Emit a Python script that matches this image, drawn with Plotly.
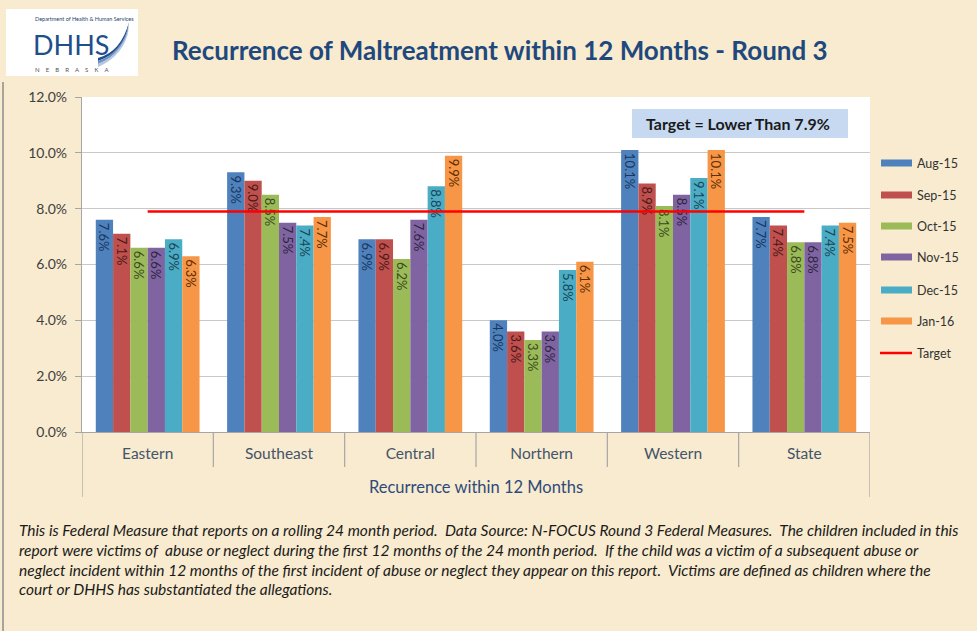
import plotly.graph_objects as go

categories = ["Eastern", "Southeast", "Central", "Northern", "Western", "State"]
series_names = ["Aug-15", "Sep-15", "Oct-15", "Nov-15", "Dec-15", "Jan-16"]
aug15 = [7.6, 9.3, 6.9, 4.0, 10.1, 7.7]
sep15 = [7.1, 9.0, 6.9, 3.6, 8.9, 7.4]
oct15 = [6.6, 8.5, 6.2, 3.3, 8.1, 6.8]
nov15 = [6.6, 7.5, 7.6, 3.6, 8.5, 6.8]
dec15 = [6.9, 7.4, 8.8, 5.8, 9.1, 7.4]
jan16 = [6.3, 7.7, 9.9, 6.1, 10.1, 7.5]
target_value = 7.9
target_name = "Target"
y_ticks = [0, 2, 4, 6, 8, 10, 12]
y_tick_labels = ["0.0%", "2.0%", "4.0%", "6.0%", "8.0%", "10.0%", "12.0%"]

series_values = [aug15, sep15, oct15, nov15, dec15, jan16]
colors = ["#4F81BD", "#C0504D", "#9BBB59", "#8064A2", "#4BACC6", "#F79646"]
text_colors = ["#17375E", "#4A1A19", "#3B4A1E", "#2E2440", "#1B4552", "#5E2E05"]

W, H = 977, 631
L, R, T, B = 82, 870, 97, 432


def px(x):
    return (x - L) / (R - L)


def py(y):
    return (B - y) / (B - T)


fig = go.Figure()
for name, vals, c, tc in zip(series_names, series_values, colors, text_colors):
    fig.add_trace(go.Bar(
        x=categories, y=vals, name=name, marker_color=c,
        marker_line_width=0,
        text=[f"{v:.1f}%" for v in vals],
        textposition="inside", insidetextanchor="end", textangle=90,
        textfont=dict(family="Lato", size=13, color=tc),
        constraintext="none",
    ))
fig.add_trace(go.Scatter(
    x=categories, y=[target_value] * len(categories), name=target_name,
    mode="lines", line=dict(color="#FF0000", width=2.5),
))

shapes = []
annotations = []

# category separators
for i in range(len(categories) + 1):
    xpos = i - 0.5
    outer = i == 0 or i == len(categories)
    shapes.append(dict(type="line", xref="x", yref="paper", x0=xpos, x1=xpos,
                       y0=0, y1=py(497 if outer else 467),
                       line=dict(color="#A6A6A6", width=1.2)))

# chart frame left border
shapes.append(dict(type="line", xref="paper", yref="paper", x0=px(3), x1=px(3),
                   y0=py(82), y1=py(640), line=dict(color="#8C8C8C", width=1.5)))

# manual legend
leg_y = [163, 195, 226, 257, 290, 321]
for name, c, yy in zip(series_names, colors, leg_y):
    shapes.append(dict(type="rect", xref="paper", yref="paper",
                       x0=px(881), x1=px(912), y0=py(yy - 3.5), y1=py(yy + 3.5),
                       fillcolor=c, line=dict(width=0)))
    annotations.append(dict(xref="paper", yref="paper", x=px(915), y=py(yy),
                            text=name, showarrow=False, xanchor="left", yanchor="middle",
                            font=dict(family="Lato", size=12.5, color="#333333")))
shapes.append(dict(type="line", xref="paper", yref="paper", x0=px(880), x1=px(912),
                   y0=py(353), y1=py(353), line=dict(color="#FF0000", width=2.5)))
annotations.append(dict(xref="paper", yref="paper", x=px(915), y=py(353),
                        text=target_name, showarrow=False, xanchor="left", yanchor="middle",
                        font=dict(family="Lato", size=12.5, color="#333333")))

# target box
shapes.append(dict(type="rect", xref="paper", yref="paper", x0=px(632), x1=px(848),
                   y0=py(138), y1=py(109), fillcolor="#C6D9F1", line=dict(width=0)))
annotations.append(dict(xref="paper", yref="paper", x=px(738), y=py(123.5),
                        text="<b>Target = Lower Than 7.9%</b>", showarrow=False,
                        xanchor="center", yanchor="middle",
                        font=dict(family="Lato", size=16, color="#1A1A1A")))

# title
annotations.append(dict(xref="paper", yref="paper", x=px(500), y=py(50),
                        text="<b>Recurrence of Maltreatment within 12 Months - Round 3</b>",
                        showarrow=False, xanchor="center", yanchor="middle",
                        font=dict(family="Lato", size=26, color="#1F497D")))

# logo
shapes.append(dict(type="rect", xref="paper", yref="paper", x0=px(6), x1=px(138),
                   y0=py(76), y1=py(9), fillcolor="#FFFFFF", line=dict(width=0)))
annotations.append(dict(xref="paper", yref="paper", x=px(33), y=py(19),
                        text="Department of Health &amp; Human Services", showarrow=False,
                        xanchor="left", yanchor="middle",
                        font=dict(family="Lato", size=5.5, color="#1F3F6E")))
annotations.append(dict(xref="paper", yref="paper", x=px(31), y=py(45),
                        text="DHHS", showarrow=False, xanchor="left", yanchor="middle",
                        font=dict(family="Lato", size=27, color="#1F4E8C")))
annotations.append(dict(xref="paper", yref="paper", x=px(72), y=py(69),
                        text="N    E    B    R    A    S    K    A", showarrow=False,
                        xanchor="center", yanchor="middle",
                        font=dict(family="Lato", size=6, color="#555555")))


def pp(x, y):
    return f"{px(x):.5f},{py(y):.5f}"


for dx, col in [(0, "#1F4E8C"), (3, "#6F8FBF"), (6, "#B4C7E0")]:
    swoosh = ("M " + pp(98, 58 + dx) + " Q " + pp(121, 52 + dx * 0.5) + " " + pp(129, 22 + dx) +
              " Q " + pp(125, 52 + dx * 0.5) + " " + pp(98, 61 + dx) + " Z")
    shapes.append(dict(type="path", xref="paper", yref="paper", path=swoosh,
                       fillcolor=col, line=dict(width=0)))

# footer
footer_lines = [
    "This is Federal Measure that reports on a rolling 24 month period.  Data Source: N-FOCUS Round 3 Federal Measures.  The children included in this",
    "report were victims of  abuse or neglect during the first 12 months of the 24 month period.  If the child was a victim of a subsequent abuse or",
    "neglect incident within 12 months of the first incident of abuse or neglect they appear on this report.  Victims are defined as children where the",
    "court or DHHS has substantiated the allegations.",
]
for line, yy in zip(footer_lines, [530, 550, 570, 589]):
    annotations.append(dict(xref="paper", yref="paper", x=px(17), y=py(yy),
                            text=f"<i>{line}</i>", showarrow=False,
                            xanchor="left", yanchor="middle",
                            font=dict(family="Lato", size=15.5, color="#1A1A1A")))

fig.update_layout(
    width=W, height=H,
    margin=dict(l=L, r=W - R, t=T, b=H - B, pad=0),
    paper_bgcolor="#F8EBCF",
    plot_bgcolor="#FFFFFF",
    barmode="group", bargap=0.21, bargroupgap=0,
    showlegend=False,
    shapes=shapes, annotations=annotations,
    font=dict(family="Lato"),
    xaxis=dict(
        type="category", showgrid=False, ticks="", ticklabelstandoff=7,
        tickfont=dict(family="Lato", size=15.5, color="#44546A"),
        showline=True, linecolor="#A6A6A6", linewidth=1.2,
        title=dict(text="Recurrence within 12 Months", standoff=20,
                   font=dict(family="Lato", size=16.5, color="#2E4A7A")),
        range=[-0.5, 5.5],
    ),
    yaxis=dict(
        range=[0, 12], tickvals=y_ticks, ticktext=y_tick_labels,
        showgrid=True, gridcolor="#C8C8C8", gridwidth=1,
        showline=True, linecolor="#A6A6A6", linewidth=1.2,
        ticks="outside", ticklen=6, tickcolor="#A6A6A6", ticklabelstandoff=5,
        tickfont=dict(family="Lato", size=14, color="#404040"),
        zeroline=False,
    ),
)

fig.write_html("out.html", config={"displayModeBar": False},
               post_script="document.body.style.margin='0px';")
